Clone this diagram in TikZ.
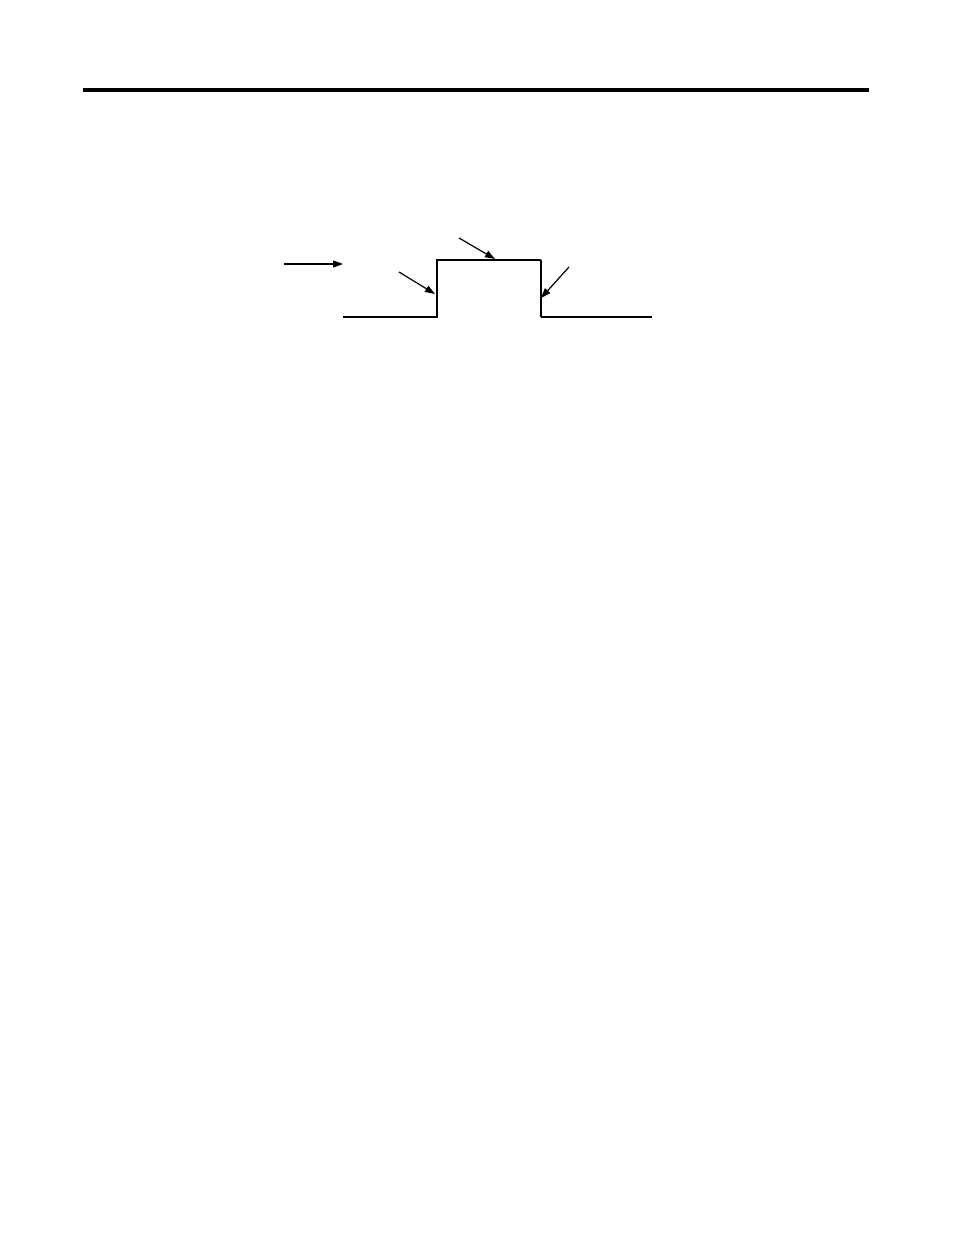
\documentclass[tikz,border=0pt]{standalone}
\usetikzlibrary{arrows.meta}

\begin{document}
\begin{tikzpicture}[x=1pt,y=-1pt]
            \tikzset{wave/.style={line width=1.5pt}, pointer/.style={line width=1.2pt,-{Triangle[length=10pt,width=7pt]}}};
            \useasboundingbox (0,0) rectangle (954,1235);
            
            % header rule
            \coordinate (h1) at (83,90);
            \coordinate (h2) at (869,90);
            \draw[line width=4pt] (h1)--(h2);
            
            % pulse
            \coordinate (p1) at (343,317);
            \coordinate (p2) at (437,317);
            \coordinate (p3) at (437,260);
            \coordinate (p4) at (541,260);
            \coordinate (p5) at (541,317);
            \coordinate (p6) at (652,317);
            
            \draw[wave] (p1)--(p2)--(p3)--(p4);
            \draw[wave,line width=2pt] (p4)--(p5);
            \draw[wave] (p5)--(p6);
            
            % arrows
            \coordinate (a1) at (284,264);
            \coordinate (b1) at (343,264);
            \coordinate (a2) at (399,272);
            \coordinate (b2) at (435,294);
            \coordinate (a3) at (459,238);
            \coordinate (b3) at (495,259);
            \coordinate (a4) at (569,267);
            \coordinate (b4) at (541,298);
            
            \draw[pointer] (a1)--(b1);
            \draw[pointer] (a2)--(b2);
            \draw[pointer] (a3)--(b3);
            \draw[pointer] (a4)--(b4);
        \end{tikzpicture}
\end{document}
